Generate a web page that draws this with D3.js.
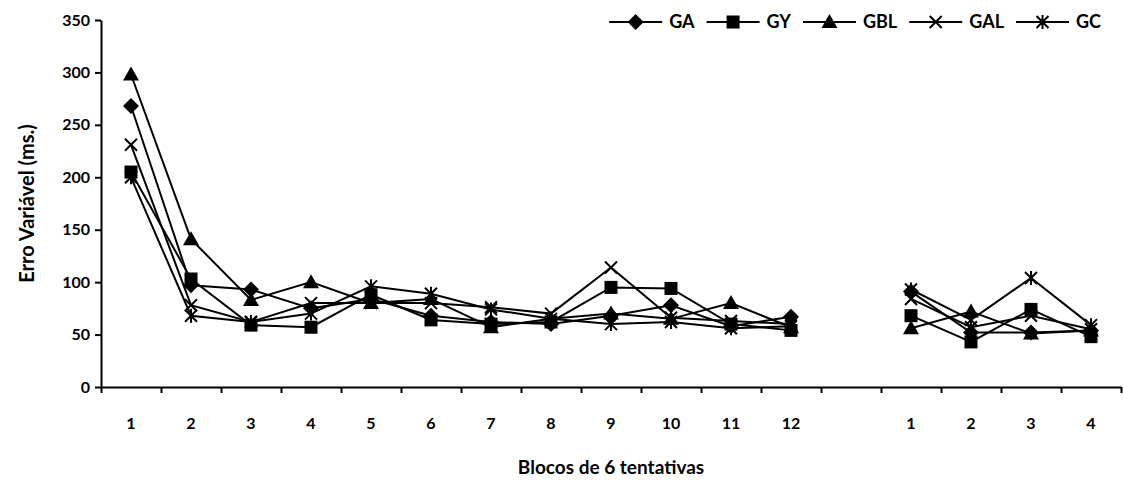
<!DOCTYPE html>
<html>
<head>
<meta charset="utf-8">
<script src="https://cdn.jsdelivr.net/npm/d3@7"></script>
<style>
  body { margin: 0; background: #fff; }
  text { font-family: Lato, "Open Sans", sans-serif; font-weight: 700; fill: #000; }
</style>
</head>
<body>
<script>
// blocks: 12 of acquisition, one empty slot, 4 of retention
var keys = ["a1","a2","a3","a4","a5","a6","a7","a8","a9","a10","a11","a12","gap","r1","r2","r3","r4"];
var tickLabels = ["1","2","3","4","5","6","7","8","9","10","11","12","","1","2","3","4"];
var yTicks = [0, 50, 100, 150, 200, 250, 300, 350];

var seriesNames = ["GA", "GY", "GBL", "GAL", "GC"];
var GA  = [268, 97, 93, 75, 84, 68, 62, 60, 68, 78, 58, 67, null, 91, 52, 52, 54];
var GY  = [205, 103, 59, 57, 88, 64, 60, 62, 95, 94, 60, 54, null, 68, 43, 74, 48];
var GBL = [298, 141, 83, 100, 80, 84, 57, 65, 70, 65, 80, 57, null, 56, 72, 51, 54];
var GAL = [231, 78, 62, 80, 80, 80, 76, 70, 114, 66, 63, 60, null, 84, 57, 68, 55];
var GC  = [200, 68, 62, 70, 96, 89, 74, 65, 60, 62, 56, 58, null, 93, 64, 104, 59];
var allSeries = [GA, GY, GBL, GAL, GC];
var markers = ["diamond", "square", "triangle", "x", "star"];

var W = 1123, H = 480;
var mLeft = 101, mRight = 1121, mTop = 20, mBottom = 387;

var svg = d3.select("body").append("svg").attr("width", W).attr("height", H);

var x = d3.scaleBand().domain(keys).range([mLeft, mRight]).padding(0);
var xEdge = d3.scaleLinear().domain([0, keys.length]).range([mLeft, mRight]);
var y = d3.scaleLinear().domain([0, 350]).range([mBottom, mTop]);

// axes
var yAxis = svg.append("g").attr("transform", "translate(" + mLeft + ",0)")
    .call(d3.axisLeft(y).tickValues(yTicks).tickSize(6).tickSizeOuter(0).tickPadding(5));
yAxis.select(".domain").attr("stroke-width", 2);
yAxis.selectAll(".tick line").attr("stroke-width", 2);
yAxis.selectAll(".tick text").style("font-size", "16px").style("font-family", "Lato, sans-serif").style("font-weight", "700");

var xAxis = svg.append("g").attr("transform", "translate(0," + mBottom + ")")
    .call(d3.axisBottom(xEdge).tickValues(d3.range(keys.length + 1)).tickSize(6).tickSizeOuter(0).tickFormat(""));
xAxis.select(".domain").attr("stroke-width", 2);
xAxis.selectAll(".tick line").attr("stroke-width", 2);

svg.append("g").selectAll("text").data(keys).join("text")
    .attr("x", function (d) { return x(d) + x.bandwidth() / 2; })
    .attr("y", 429)
    .attr("text-anchor", "middle")
    .style("font-size", "16px")
    .text(function (d, i) { return tickLabels[i]; });

// titles
svg.append("text").attr("x", (mLeft + mRight) / 2).attr("y", 474)
    .attr("text-anchor", "middle").style("font-size", "19px")
    .text("Blocos de 6 tentativas");
svg.append("text").attr("transform", "translate(34," + (mTop + mBottom) / 2 + ") rotate(-90)")
    .attr("text-anchor", "middle").style("font-size", "20px")
    .text("Erro Variável (ms.)");

function drawMarker(g, type, cx, cy) {
    if (type == "diamond") {
        g.append("path").attr("d", "M" + cx + "," + (cy - 8) + "L" + (cx + 8) + "," + cy + "L" + cx + "," + (cy + 8) + "L" + (cx - 8) + "," + cy + "Z");
    } else if (type == "square") {
        g.append("rect").attr("x", cx - 6.5).attr("y", cy - 6.5).attr("width", 13).attr("height", 13);
    } else if (type == "triangle") {
        g.append("path").attr("d", "M" + cx + "," + (cy - 8) + "L" + (cx + 8) + "," + (cy + 6) + "L" + (cx - 8) + "," + (cy + 6) + "Z");
    } else if (type == "x") {
        g.append("path").attr("fill", "none").attr("stroke", "#000").attr("stroke-width", 2)
            .attr("d", "M" + (cx - 6) + "," + (cy - 6) + "L" + (cx + 6) + "," + (cy + 6) + "M" + (cx + 6) + "," + (cy - 6) + "L" + (cx - 6) + "," + (cy + 6));
    } else {
        g.append("path").attr("fill", "none").attr("stroke", "#000").attr("stroke-width", 2)
            .attr("d", "M" + (cx - 6) + "," + (cy - 6) + "L" + (cx + 6) + "," + (cy + 6) + "M" + (cx + 6) + "," + (cy - 6) + "L" + (cx - 6) + "," + (cy + 6)
                + "M" + cx + "," + (cy - 7) + "L" + cx + "," + (cy + 7));
    }
}

var line = d3.line()
    .defined(function (d) { return d != null; })
    .x(function (d, i) { return x(keys[i]) + x.bandwidth() / 2; })
    .y(function (d) { return y(d); });

allSeries.forEach(function (vals, s) {
    svg.append("path").datum(vals)
        .attr("fill", "none").attr("stroke", "#000").attr("stroke-width", 2)
        .attr("d", line);
});
allSeries.forEach(function (vals, s) {
    var g = svg.append("g").attr("fill", "#000");
    vals.forEach(function (v, i) {
        if (v == null) return;
        drawMarker(g, markers[s], x(keys[i]) + x.bandwidth() / 2, y(v));
    });
});

// legend, laid out from the right edge
var legendY = 22;
var lx = 1101;
for (var s = seriesNames.length - 1; s >= 0; s--) {
    var t = svg.append("text").attr("y", legendY + 6).style("font-size", "18px").text(seriesNames[s]);
    var tw = t.node().getComputedTextLength();
    lx -= tw;
    t.attr("x", lx);
    var lineEnd = lx - 7, lineStart = lineEnd - 53;
    svg.append("line").attr("x1", lineStart).attr("x2", lineEnd).attr("y1", legendY).attr("y2", legendY)
        .attr("stroke", "#000").attr("stroke-width", 2);
    var g = svg.append("g").attr("fill", "#000");
    drawMarker(g, markers[s], (lineStart + lineEnd) / 2, legendY);
    lx = lineStart - 12;
}
</script>
</body>
</html>
